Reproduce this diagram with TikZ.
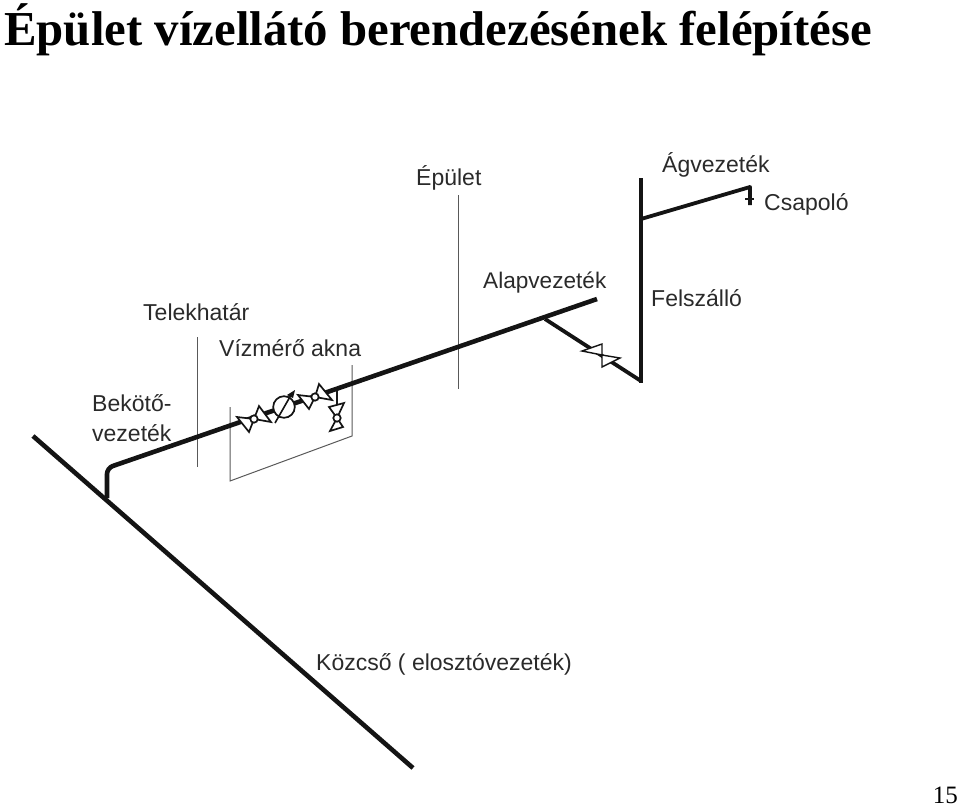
\documentclass[tikz,border=0pt]{standalone}
\usepackage{fontspec}
\setmainfont{Liberation Sans}
\newfontfamily\titlefont{Liberation Serif}
\definecolor{labelgray}{HTML}{2A2A2A}
\tikzset{
  pipe/.style={line width=4.6pt,black!92},
  thinline/.style={line width=1pt,black!65},
  valveline/.style={line width=1.7pt,black!92,fill=white,line join=miter},
  label/.style={anchor=base west,inner sep=0pt,text=labelgray,font=\fontsize{23}{26}\selectfont},
  headline/.style={anchor=base west,inner sep=0pt,font=\titlefont\bfseries\fontsize{48.8}{54}\selectfont},
}
\begin{document}
\begin{tikzpicture}[x=1pt,y=-1pt]
  \useasboundingbox (0,0) rectangle (960,809);

  % heading and page number
  \node[headline] (title) at (4,45) {Épület vízellátó berendezésének felépítése};
  \node[anchor=base east,inner sep=0pt,font=\titlefont\fontsize{25}{28}\selectfont] (pagenum) at (958,803) {15};

  % labels
  \node[label] (epulet) at (416,185) {Épület};
  \node[label] (agvezetek) at (662,172) {Ágvezeték};
  \node[label] (csapolo) at (764,210) {Csapoló};
  \node[label,font=\fontsize{22.6}{26}\selectfont] (alapvezetek) at (483,288) {Alapvezeték};
  \node[label] (felszallo) at (651,306) {Felszálló};
  \node[label] (telekhatar) at (143,320) {Telekhatár};
  \node[label] (akna) at (219,356) {Vízmérő akna};
  \node[label] (bekoto) at (92,411) {Bekötő-};
  \node[label] (bekoto2) at (92,441) {vezeték};
  \node[label] (kozcso) at (316,670) {Közcső ( elosztóvezeték)};

  % thin lines
  \draw[thinline] (458,195) -- (458,389);
  \draw[thinline] (197,337) -- (197,467);
  \draw[thinline] (230,407) -- (230,481) -- (352,436) -- (352,365);

  % street main and service pipe
  \coordinate (mainA) at (33,436);
  \coordinate (mainB) at (413,768);
  \coordinate (tap) at (107,498);
  \coordinate (bend) at (107,468);
  \coordinate (alapEnd) at (597,299);
  \coordinate (tee) at (545,319);
  \coordinate (riserFoot) at (641,381);
  \coordinate (riserTop) at (641,178);
  \coordinate (branchStart) at (641,219);
  \coordinate (branchEnd) at (750,187);
  \draw[pipe] (mainA) -- (mainB);
  \draw[pipe,rounded corners=6pt] (tap) -- (bend) -- (alapEnd);
  \draw[pipe,line width=3.8pt] (tee) -- (riserFoot);
  \draw[pipe,line width=4.2pt] (riserTop) -- (641,383);
  \draw[pipe,line width=3.8pt,line join=round] (branchStart) -- (branchEnd) -- (750,205);
  \draw[line width=2pt,black!90] (745,199) -- (754,199);

  % valve in the cellar pipe
  \draw[valveline,line width=1.4pt] (582,351) -- (602,344) -- (602,355) -- cycle;
  \draw[valveline,line width=1.4pt] (620,358) -- (602,367) -- (602,355) -- cycle;

  % branch to drain valve
  \draw[line width=1.5pt,black!90] (337,391) -- (337,405);

  % valves
  \draw[valveline] (237,417) -- (249,432) -- (254,419) -- cycle;
  \draw[valveline] (259,406) -- (271,422) -- (254,419) -- cycle;
  \draw[valveline] (254,419) circle (3.7pt);
  \draw[valveline] (298,395) -- (309,409) -- (315,397) -- cycle;
  \draw[valveline] (319,384) -- (332,400) -- (315,397) -- cycle;
  \draw[valveline] (315,397) circle (3.7pt);
  \draw[valveline] (329,407) -- (344,403) -- (337,418) -- cycle;
  \draw[valveline] (330,431) -- (343,427) -- (337,418) -- cycle;
  \draw[valveline] (337,418) circle (3.7pt);

  % water meter
  \draw[valveline] (284,407) circle (10.8pt);
  \draw[line width=1.6pt,black!92] (275,423) -- (291,395);
  \fill[black!92] (287,395) -- (295,390) -- (293,398) -- cycle;
\end{tikzpicture}
\end{document}
